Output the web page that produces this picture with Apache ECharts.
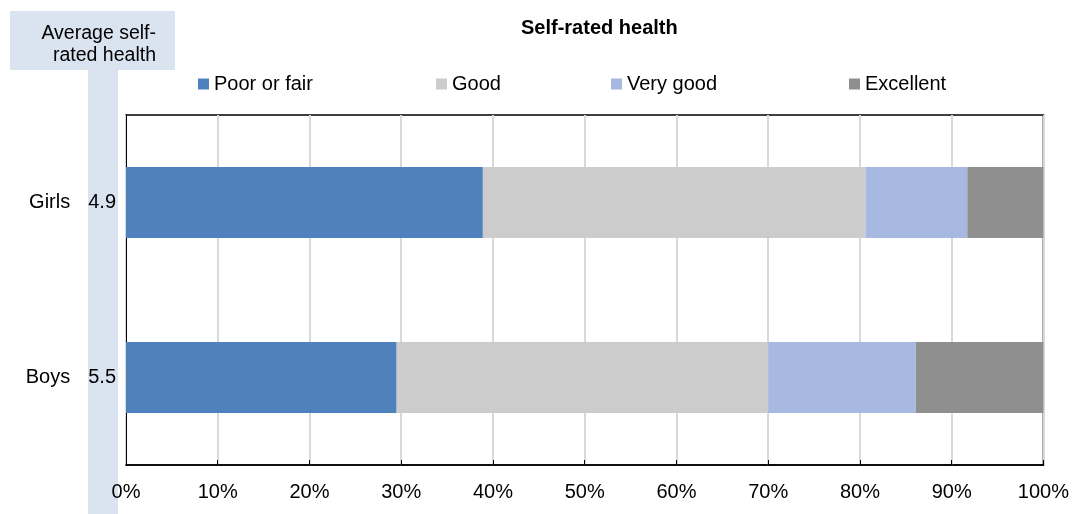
<!DOCTYPE html>
<html><head><meta charset="utf-8">
<script src="https://cdn.jsdelivr.net/npm/echarts@6/dist/echarts.min.js"></script>
<style>html,body{margin:0;padding:0;background:#fff}#c{width:1072px;height:514px}</style>
</head><body><div id="c"></div>
<script>
const categories = ['Girls', 'Boys'];
const avgScore = ['4.9', '5.5'];
const poorOrFair = [38.9, 29.5];
const good = [41.7, 40.5];
const veryGood = [11.1, 16.1];
const excellent = [8.3, 13.9];
const seriesNames = ['Poor or fair', 'Good', 'Very good', 'Excellent'];
const colors = ['#4f81bd', '#cccccc', '#a7b9e1', '#8f8f8f'];
const legendLeft = [193, 431, 606, 844];

const chart = echarts.init(document.getElementById('c'));
const FONT = 'Liberation Sans, Arial, sans-serif';
const FS = 20;
const data = [poorOrFair, good, veryGood, excellent];

chart.setOption({
  animation: false,
  textStyle: { fontFamily: FONT },
  title: {
    text: 'Self-rated health', left: 516, top: 13,
    textStyle: { fontFamily: FONT, fontSize: FS, fontWeight: 'bold', color: '#000' }
  },
  legend: seriesNames.map((n, i) => ({
    data: [n], left: legendLeft[i], top: 69, icon: 'rect', itemWidth: 11, itemHeight: 11, itemGap: 4,
    textStyle: { fontFamily: FONT, fontSize: FS, color: '#000' }
  })),
  graphic: [
    { type: 'rect', shape: { x: 88, y: 68, width: 30, height: 446 }, style: { fill: '#dae3f0' }, z: -1 },
    { type: 'rect', shape: { x: 10, y: 11, width: 165, height: 59 }, style: { fill: '#dae3f0' }, z: -1 },
    { type: 'text', x: 156, y: 23, style: { text: 'Average self-\nrated health', fill: '#000', font: '19.5px ' + FONT, textAlign: 'right', lineHeight: 22 } }
  ],
  grid: { left: 126, right: 28, top: 115, bottom: 49, show: true, borderColor: '#000', borderWidth: 1.5 },
  xAxis: {
    type: 'value', min: 0, max: 100, interval: 10,
    axisLabel: { formatter: '{value}%', fontFamily: FONT, fontSize: FS, color: '#000', margin: 17 },
    axisLine: { show: true, lineStyle: { color: '#000', width: 1.5 } },
    axisTick: { show: true, inside: true, length: 5, lineStyle: { color: '#000' } },
    splitLine: { show: true, lineStyle: { color: '#d9d9d9', width: 2 } }
  },
  yAxis: {
    type: 'category', data: categories, inverse: true,
    axisLine: { show: true, lineStyle: { color: '#000' } },
    axisTick: { show: false },
    axisLabel: {
      margin: 10,
      formatter: (v, i) => '{n|' + v + '}{s|' + avgScore[i] + '}',
      rich: {
        n: { fontFamily: FONT, fontSize: FS, color: '#000' },
        s: { fontFamily: FONT, fontSize: FS, color: '#000', padding: [0, 0, 0, 18] }
      }
    }
  },
  series: seriesNames.map((n, i) => ({
    name: n, type: 'bar', stack: 'total', data: data[i], barWidth: 71,
    itemStyle: { color: colors[i] }
  }))
});
</script></body></html>
